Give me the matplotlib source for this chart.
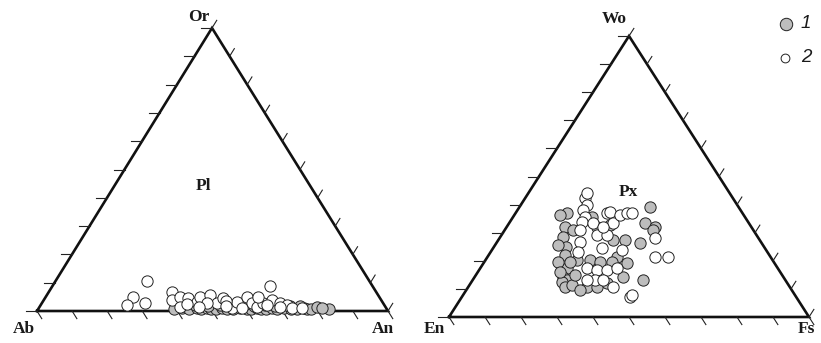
import matplotlib
matplotlib.use("Agg")
import matplotlib.pyplot as plt
import numpy as np

# ---------------- data (ternary compositions, %) ----------------
# Feldspar: An %, Or % (Ab = remainder)
fsp1_an = [38.7, 40.7, 43.0, 45.0, 46.4, 47.9, 49.3, 50.7, 52.1, 53.6, 55.6, 57.3, 59.3,
           60.7, 62.1, 63.5, 65.0, 66.4, 68.1, 69.8, 72.1, 73.8, 75.5, 76.6, 77.8, 82.9,
           40.0, 44.0, 48.0, 51.0, 54.0, 58.0, 61.0, 64.0, 67.0, 71.0, 74.0, 79.0, 80.5]
fsp1_or = [0.8, 1.0, 0.7, 0.9, 0.7, 1.1, 0.8, 0.7, 1.0, 0.8, 0.7, 1.0, 0.8,
           0.7, 1.0, 0.8, 0.7, 0.9, 0.8, 1.0, 0.7, 0.8, 0.9, 0.7, 0.8, 0.7,
           1.8, 2.0, 1.7, 2.2, 1.9, 2.1, 1.8, 2.0, 1.7, 1.9, 1.6, 1.4, 1.2]
fsp2_an = [26.1, 24.9, 24.6, 29.4, 62.0, 35.1, 36.5, 38.3, 40.0, 40.7, 44.0, 44.0, 46.5,
           49.9, 50.7, 55.0, 55.4, 57.4, 59.9, 62.0, 63.0, 65.0, 67.8, 70.2, 47.0, 57.9, 64.5,
           41.5, 52.0, 60.5, 53.0, 45.5, 68.5, 72.0, 75.0]
fsp2_or = [10.6, 4.9, 2.1, 2.8, 8.8, 6.7, 3.9, 4.9, 1.4, 4.6, 3.2, 4.9, 5.7,
           2.8, 4.6, 1.1, 3.2, 4.9, 2.8, 1.4, 2.8, 3.9, 2.8, 2.1, 2.8, 1.1, 2.1,
           2.5, 3.5, 5.0, 1.8, 1.5, 1.5, 1.2, 1.1]

# Pyroxene: Fs %, Wo % (En = remainder)
px1_fs = [14.3, 16.2, 17.4, 20.1, 21.2, 24.1, 24.6, 26.2, 25.2, 26.9, 19.0, 25.4, 33.0, 35.8,
          37.8, 36.0, 39.8, 41.2, 31.9, 36.3, 37.7, 41.2, 41.2, 39.9, 47.3, 21.9, 25.1,
          12.7, 17.5, 20.5, 23.8, 22.8, 28.5, 31.6, 27.5, 29.0, 32.2, 35.5, 35.2, 28.4]
px1_wo = [37.0, 32.0, 28.5, 24.9, 22.1, 17.4, 14.2, 13.2, 12.5, 10.7, 31.0, 20.3, 10.7, 10.7,
          12.1, 21.4, 19.2, 14.2, 27.4, 39.1, 33.5, 32.0, 31.0, 26.3, 13.2, 35.6, 32.0,
          36.3, 25.6, 19.6, 19.6, 16.0, 11.4, 9.6, 14.9, 20.3, 19.6, 19.6, 27.4, 32.7]
px2_fs = [16.6, 18.4, 18.2, 20.0, 20.0, 20.9, 23.0, 24.3, 23.3, 26.5, 30.2, 25.4, 26.0, 28.8,
          29.4, 30.9, 32.3, 36.1, 29.3, 26.8, 29.6, 32.8, 35.5, 37.9, 34.0, 36.2, 40.2, 31.8,
          43.2, 46.6, 50.2, 46.7, 46.9, 16.3]
px2_wo = [42.3, 39.9, 38.1, 35.6, 33.8, 31.0, 26.7, 23.1, 33.5, 29.2, 24.6, 37.0, 37.4, 33.5,
          36.3, 37.0, 37.0, 23.8, 29.2, 32.0, 17.4, 16.7, 16.7, 17.4, 13.2, 13.2, 10.7, 13.2,
          28.1, 21.4, 21.4, 7.1, 7.8, 44.1]

legend_labels = ["1", "2"]
fsp_vertices = ["Ab", "An", "Or"]
px_vertices = ["En", "Fs", "Wo"]

# ---------------- layout (pixel space) ----------------
W, H = 821, 343
fig = plt.figure(figsize=(W / 100, H / 100), dpi=100)
ax = fig.add_axes([0, 0, 1, 1])
ax.set_xlim(0, W)
ax.set_ylim(H, 0)
ax.axis("off")

GRAY = "#bdbdbd"
MS = 66


def make_tri(left, right, top):
    left, right, top = map(np.array, (left, right, top))

    def to_xy(b, t):
        b = np.asarray(b) / 100.0
        t = np.asarray(t) / 100.0
        a = 1 - b - t
        x = a * left[0] + b * right[0] + t * top[0]
        y = a * left[1] + b * right[1] + t * top[1]
        return x, y
    return left, right, top, to_xy


def draw_triangle(left, right, top):
    xs = [left[0], right[0], top[0], left[0]]
    ys = [left[1], right[1], top[1], left[1]]
    ax.plot(xs, ys, color="#111111", lw=1.9, solid_joinstyle="miter", zorder=2)
    d_base = (right - top) / np.linalg.norm(right - top)
    d_left = np.array([-1.0, 0.0])
    d_right = (top - left) / np.linalg.norm(top - left)
    for i in range(11):
        f = i / 10
        p = left + f * (right - left)
        q = p + d_base * 9
        ax.plot([p[0], q[0]], [p[1], q[1]], color="#222222", lw=0.8, zorder=2)
        p = left + f * (top - left)
        q = p + d_left * 11
        ax.plot([p[0], q[0]], [p[1], q[1]], color="#222222", lw=0.8, zorder=2)
        p = right + f * (top - right)
        q = p + d_right * 9
        ax.plot([p[0], q[0]], [p[1], q[1]], color="#222222", lw=0.8, zorder=2)


lab = dict(family="Liberation Serif", fontweight="bold", fontsize=12.5, color="#1a1a1a")

# Feldspar triangle
L, R, T, f2xy = make_tri((37, 311), (388, 311), (212, 28))
draw_triangle(L, R, T)
x, y = f2xy(fsp1_an, fsp1_or)
ax.scatter(x, y, s=MS, facecolor=GRAY, edgecolor="#222222", linewidth=0.7, zorder=3)
x, y = f2xy(fsp2_an, fsp2_or)
ax.scatter(x, y, s=MS, facecolor="white", edgecolor="#222222", linewidth=0.7, zorder=4)
ax.text(L[0] - 2, L[1] + 18, fsp_vertices[0], ha="right", va="center", **lab)
ax.text(R[0] + 6, R[1] + 18, fsp_vertices[1], ha="right", va="center", **lab)
ax.text(T[0] - 3, T[1] - 11, fsp_vertices[2], ha="right", va="center", **lab)
ax.text(203, 186, "Pl", ha="center", va="center", **lab)

# Pyroxene triangle
L2, R2, T2, p2xy = make_tri((449, 317), (809, 317), (629, 36))
draw_triangle(L2, R2, T2)
x, y = p2xy(px1_fs, px1_wo)
ax.scatter(x, y, s=MS, facecolor=GRAY, edgecolor="#222222", linewidth=0.7, zorder=3)
x, y = p2xy(px2_fs, px2_wo)
ax.scatter(x, y, s=MS, facecolor="white", edgecolor="#222222", linewidth=0.7, zorder=4)
ax.text(L2[0] - 4, L2[1] + 12, px_vertices[0], ha="right", va="center", **lab)
ax.text(R2[0] + 6, R2[1] + 12, px_vertices[1], ha="right", va="center", **lab)
ax.text(T2[0] - 2, T2[1] - 17, px_vertices[2], ha="right", va="center", **lab)
ax.text(628, 192, "Px", ha="center", va="center", **lab)

# Legend
ax.scatter([786], [24], s=80, facecolor=GRAY, edgecolor="#222222", linewidth=0.7, zorder=5)
ax.scatter([785], [58], s=40, facecolor="white", edgecolor="#222222", linewidth=0.7, zorder=5)
ax.text(801, 24, legend_labels[0], family="Liberation Sans", style="italic",
        fontsize=13.5, ha="left", va="center", color="#1a1a1a")
ax.text(801, 58, legend_labels[1], family="Liberation Sans", style="italic",
        fontsize=13.5, ha="left", va="center", color="#1a1a1a")

fig.savefig("out.png", dpi=100, facecolor="white")
